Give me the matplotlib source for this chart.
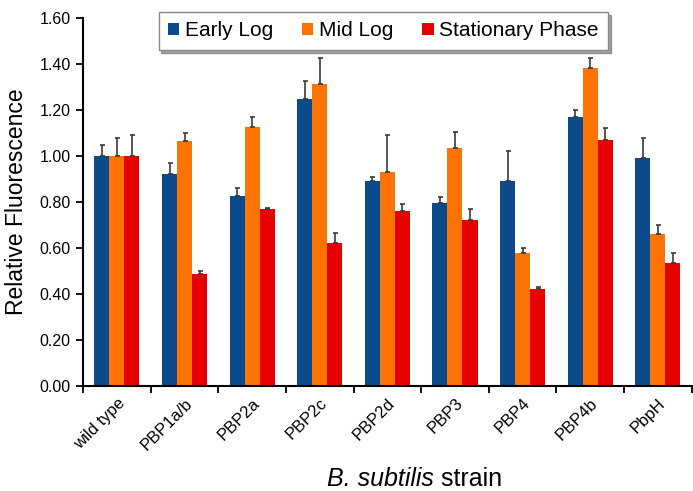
import matplotlib
matplotlib.use("Agg")
import matplotlib.pyplot as plt
import matplotlib.transforms as mtransforms
import numpy as np

plt.rcParams['font.family'] = ['Liberation Sans', 'DejaVu Sans']

strains = ["wild type", "PBP1a/b", "PBP2a", "PBP2c", "PBP2d", "PBP3", "PBP4", "PBP4b", "PbpH"]
series = ["Early Log", "Mid Log", "Stationary Phase"]
early = [1.00, 0.92, 0.825, 1.25, 0.89, 0.795, 0.89, 1.17, 0.99]
mid = [1.00, 1.065, 1.125, 1.315, 0.93, 1.035, 0.58, 1.385, 0.66]
stat = [1.00, 0.485, 0.77, 0.62, 0.76, 0.72, 0.42, 1.07, 0.535]
early_err = [0.05, 0.05, 0.035, 0.078, 0.018, 0.025, 0.13, 0.03, 0.09]
mid_err = [0.08, 0.035, 0.045, 0.11, 0.16, 0.07, 0.02, 0.04, 0.04]
stat_err = [0.09, 0.015, 0.005, 0.045, 0.03, 0.05, 0.01, 0.05, 0.045]
colors = ["#0B4A8B", "#FF7305", "#E60000"]
yticks = [0.0, 0.2, 0.4, 0.6, 0.8, 1.0, 1.2, 1.4, 1.6]

fig = plt.figure(figsize=(6.93, 4.91), dpi=100)
ax = fig.add_axes([0.12, 0.214, 0.878, 0.749])

x = np.arange(len(strains))
w = 0.222
for i, (vals, errs) in enumerate(zip([early, mid, stat], [early_err, mid_err, stat_err])):
    pos = x + (i - 1) * w
    ax.bar(pos, vals, width=w, color=colors[i], label=series[i], zorder=2)
    ax.errorbar(pos, vals, yerr=[np.zeros(len(errs)), errs], fmt='none',
                ecolor='#3a3a3a', elinewidth=1.2, capsize=1.8, capthick=1.2, zorder=3)

ax.set_xlim(-0.5, len(strains) - 0.5)
ax.set_ylim(0, 1.6)
ax.set_yticks(yticks)
ax.set_yticklabels([f"{v:.2f}" for v in yticks], fontsize=11.5)
ax.set_xticks(np.arange(len(strains) + 1) - 0.5)
ax.set_xticklabels([])
ax.set_xticks(x, minor=True)
ax.set_xticklabels(strains, minor=True, rotation=45, ha='right', rotation_mode='anchor', fontsize=12)
offset = mtransforms.ScaledTranslation(8 / 100, 0, fig.dpi_scale_trans)
for lbl in ax.get_xticklabels(minor=True):
    lbl.set_transform(lbl.get_transform() + offset)
ax.tick_params(axis='x', which='minor', length=0, pad=7)
ax.tick_params(axis='x', which='major', direction='out', length=5, width=1.3)
ax.tick_params(axis='y', direction='out', length=5, width=1.3, pad=4)
for s in ['top', 'right']:
    ax.spines[s].set_visible(False)
for s in ['left', 'bottom']:
    ax.spines[s].set_linewidth(1.5)

ax.set_ylabel("Relative Fluorescence", fontsize=16.5, labelpad=8)

t1 = fig.text(327 / 693, 0.01, "B. subtilis", ha='left', fontsize=18, style='italic')
fig.canvas.draw()
bb = t1.get_window_extent()
fig.text(bb.x1 / fig.bbox.width, 0.01, " strain", ha='left', fontsize=18)

leg = ax.legend(loc='upper center', bbox_to_anchor=(0.493, 1.045), ncol=3, fontsize=15,
                frameon=True, fancybox=False, shadow=True, handlelength=0.55, handleheight=0.55,
                handletextpad=0.25, columnspacing=1.4, borderpad=0.45)
leg.get_frame().set_edgecolor('#888888')
leg.get_frame().set_linewidth(1.0)

fig.savefig("out.png", dpi=100)
